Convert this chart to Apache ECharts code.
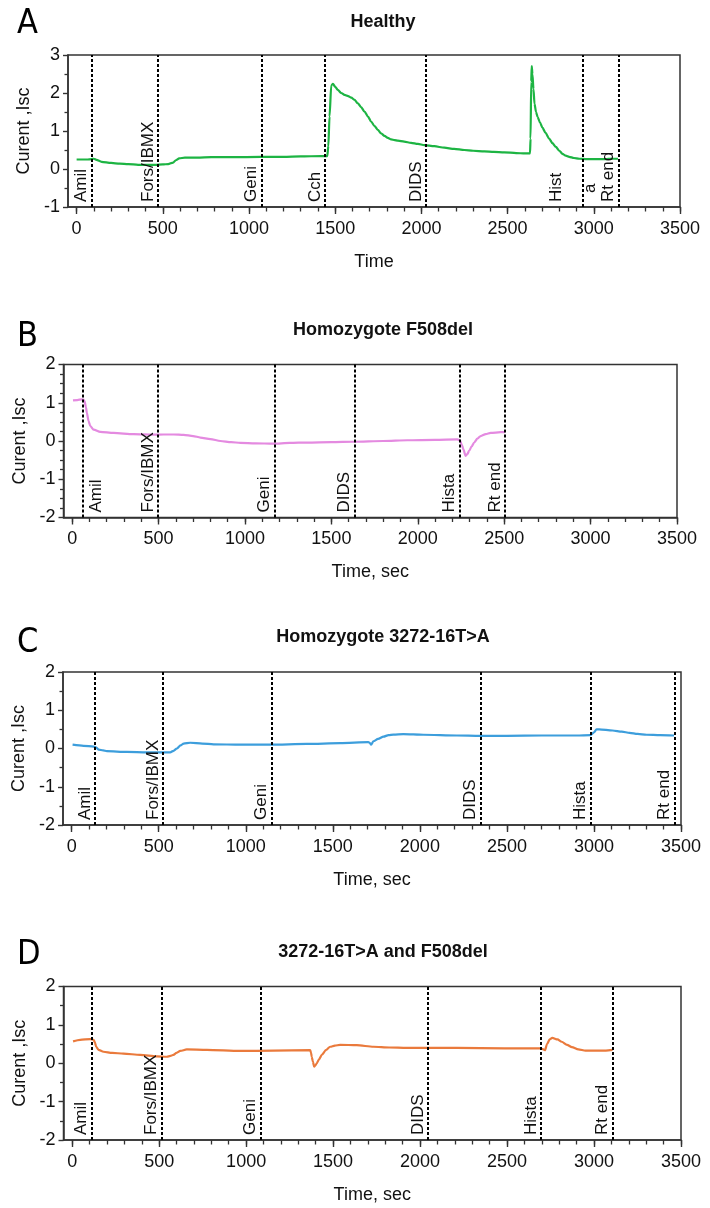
<!DOCTYPE html>
<html>
<head>
<meta charset="utf-8">
<title>Isc traces</title>
<script src="https://cdn.jsdelivr.net/npm/echarts@6/dist/echarts.min.js"></script>
<style>
  html, body { margin: 0; padding: 0; background: #fff; }
  #chart { width: 710px; height: 1208px; }
</style>
</head>
<body>
<div id="chart"></div>
<script>
// A - healthy
const timeA = [0, 60, 87, 100, 115, 145, 200, 250, 300, 357, 420, 454, 500, 531, 560, 575, 595, 628, 700, 782, 900, 1068, 1200, 1300, 1419, 1454, 1460, 1467, 1477, 1487, 1500, 1515, 1535, 1554, 1575, 1593, 1612, 1631, 1650, 1670, 1690, 1708, 1728, 1747, 1766, 1786, 1805, 1824, 1845, 1863, 1900, 1940, 1980, 2017, 2075, 2133, 2190, 2249, 2300, 2365, 2420, 2480, 2550, 2600, 2630, 2633, 2637, 2640, 2644, 2650, 2656, 2665, 2674, 2688, 2702, 2720, 2741, 2760, 2780, 2800, 2818, 2837, 2857, 2885, 2915, 2960, 3011, 3070, 3100, 3140]
const iscA = [0.25, 0.25, 0.26, 0.27, 0.24, 0.19, 0.16, 0.14, 0.13, 0.11, 0.11, 0.11, 0.12, 0.13, 0.17, 0.23, 0.28, 0.30, 0.30, 0.31, 0.31, 0.32, 0.32, 0.33, 0.34, 0.34, 0.6, 1.38, 2.2, 2.24, 2.16, 2.08, 2.0, 1.95, 1.92, 1.88, 1.82, 1.73, 1.63, 1.51, 1.38, 1.25, 1.13, 1.03, 0.94, 0.87, 0.82, 0.78, 0.76, 0.745, 0.72, 0.69, 0.66, 0.63, 0.6, 0.56, 0.53, 0.50, 0.48, 0.465, 0.45, 0.44, 0.42, 0.41, 0.41, 0.8, 2.3, 2.71, 2.5, 2.1, 1.72, 1.5, 1.37, 1.22, 1.09, 0.95, 0.80, 0.68, 0.58, 0.48, 0.40, 0.35, 0.32, 0.29, 0.27, 0.26, 0.26, 0.26, 0.27, 0.27]
const eventTimeA = [87, 471, 1072, 1440, 2026, 2933, 2933, 3144]
const eventNameA = ['Amil', 'Fors/IBMX', 'Geni', 'Cch', 'DIDS', 'Hist', 'a', 'Rt end']
const eventSideA = ['l', 'l', 'l', 'l', 'l', 'far', 'mid', 'l']

// B - homozygote F508del
const timeB = [5, 30, 57, 65, 72, 80, 85, 95, 105, 124, 163, 240, 356, 472, 530, 588, 645, 700, 742, 800, 858, 920, 974, 1060, 1163, 1260, 1360, 1500, 1630, 1800, 1940, 2100, 2229, 2244, 2255, 2264, 2277, 2287, 2297, 2312, 2326, 2345, 2364, 2393, 2422, 2480, 2505]
const iscB = [1.06, 1.07, 1.09, 1.08, 1.04, 0.88, 0.74, 0.52, 0.39, 0.30, 0.24, 0.21, 0.18, 0.165, 0.17, 0.17, 0.16, 0.13, 0.09, 0.05, 0.0, -0.03, -0.05, -0.06, -0.07, -0.05, -0.04, -0.03, -0.02, 0.0, 0.02, 0.03, 0.04, 0.02, -0.1, -0.22, -0.39, -0.34, -0.26, -0.14, -0.04, 0.06, 0.13, 0.18, 0.21, 0.23, 0.23]
const eventTimeB = [64, 498, 1170, 1635, 2240, 2505]
const eventNameB = ['Amil', 'Fors/IBMX', 'Geni', 'DIDS', 'Hista', 'Rt end']
const eventSideB = ['r', 'l', 'l', 'l', 'l', 'l']

// C - homozygote 3272-16T>A
const timeC = [5, 68, 126, 140, 155, 180, 202, 317, 432, 528, 566, 585, 604, 625, 643, 681, 750, 815, 968, 1140, 1350, 1542, 1704, 1712, 1720, 1733, 1760, 1791, 1820, 1848, 1905, 2020, 2212, 2346, 2500, 2700, 2900, 2980, 3000, 3015, 3030, 3107, 3160, 3205, 3250, 3302, 3380, 3460]
const iscC = [0.10, 0.07, 0.05, 0.03, -0.03, -0.05, -0.07, -0.09, -0.10, -0.10, -0.10, -0.06, 0.0, 0.08, 0.13, 0.15, 0.13, 0.11, 0.10, 0.10, 0.12, 0.14, 0.165, 0.15, 0.10, 0.19, 0.25, 0.31, 0.35, 0.365, 0.375, 0.36, 0.34, 0.33, 0.33, 0.34, 0.34, 0.35, 0.42, 0.50, 0.50, 0.47, 0.44, 0.41, 0.38, 0.36, 0.35, 0.34]
const eventTimeC = [133, 525, 1147, 2350, 2980, 3463]
const eventNameC = ['Amil', 'Fors/IBMX', 'Geni', 'DIDS', 'Hista', 'Rt end']
const eventSideC = ['l', 'l', 'l', 'l', 'l', 'l']

// D - 3272-16T>A and F508del
const timeD = [5, 46, 104, 123, 130, 138, 151, 180, 230, 295, 391, 487, 544, 565, 582, 600, 621, 659, 774, 965, 1157, 1368, 1373, 1377, 1384, 1391, 1398, 1406, 1420, 1435, 1460, 1483, 1510, 1540, 1636, 1732, 1823, 1923, 2211, 2488, 2690, 2705, 2718, 2730, 2745, 2760, 2790, 2814, 2845, 2873, 2910, 2951, 3000, 3068, 3106]
const iscD = [0.57, 0.61, 0.63, 0.61, 0.55, 0.43, 0.35, 0.30, 0.27, 0.25, 0.22, 0.18, 0.17, 0.19, 0.22, 0.27, 0.32, 0.36, 0.35, 0.32, 0.33, 0.34, 0.28, 0.17, 0.04, -0.09, -0.06, 0.0, 0.11, 0.22, 0.35, 0.43, 0.46, 0.48, 0.47, 0.43, 0.41, 0.40, 0.40, 0.39, 0.39, 0.37, 0.34, 0.50, 0.62, 0.66, 0.62, 0.56, 0.48, 0.42, 0.36, 0.33, 0.33, 0.33, 0.35]
const eventTimeD = [110, 512, 1083, 2046, 2695, 3106]
const eventNameD = ['Amil', 'Fors/IBMX', 'Geni', 'DIDS', 'Hista', 'Rt end']
const eventSideD = ['l', 'l', 'l', 'l', 'l', 'l']

// axis ticks
const xLabelTicks = [0, 500, 1000, 1500, 2000, 2500, 3000, 3500]
const xMinorTicks = [0, 100, 200, 300, 400, 500, 600, 700, 800, 900, 1000, 1100, 1200, 1300, 1400, 1500, 1600, 1700, 1800, 1900, 2000, 2100, 2200, 2300, 2400, 2500, 2600, 2700, 2800, 2900, 3000, 3100, 3200, 3300, 3400, 3500]

const panels = [
  { letter: 'A', title: 'Healthy', xName: 'Time', time: timeA, isc: iscA, evT: eventTimeA, evN: eventNameA, evS: eventSideA,
    color: '#1db443', yMin: -1, yMax: 3, yMinor: 2, grid: { left: 68, top: 55, width: 612, height: 152 }, titleTop: 8, letterTop: 2 },
  { letter: 'B', title: 'Homozygote F508del', xName: 'Time, sec', time: timeB, isc: iscB, evT: eventTimeB, evN: eventNameB, evS: eventSideB,
    color: '#e48ae0', yMin: -2, yMax: 2, yMinor: 4, grid: { left: 63.5, top: 364.5, width: 613.5, height: 153 }, titleTop: 316, letterTop: 315 },
  { letter: 'C', title: 'Homozygote 3272-16T>A', xName: 'Time, sec', time: timeC, isc: iscC, evT: eventTimeC, evN: eventNameC, evS: eventSideC,
    color: '#3d9edc', yMin: -2, yMax: 2, yMinor: 2, grid: { left: 63, top: 672, width: 618, height: 153 }, titleTop: 623, letterTop: 621 },
  { letter: 'D', title: '3272-16T>A and F508del', xName: 'Time, sec', time: timeD, isc: iscD, evT: eventTimeD, evN: eventNameD, evS: eventSideD,
    color: '#ea7a3c', yMin: -2, yMax: 2, yMinor: 2, grid: { left: 63.5, top: 986.5, width: 617.5, height: 153.5 }, titleTop: 938, letterTop: 933 }
]

const font = '"Liberation Sans", Arial, sans-serif'
const axisCol = '#333'
const sideStyle = {
  l: { position: 'insideStartTop', distance: [5, 1.5] },
  r: { position: 'insideStartBottom', distance: [5, 5] },
  far: { position: 'insideStartTop', distance: [5, 17] },
  mid: { position: 'insideStartBottom', distance: [14, 0] }
}

const titles = []
const grids = []
const xAxes = []
const yAxes = []
const series = []

panels.forEach((p, i) => {
  titles.push({
    text: p.letter, left: 12, top: p.letterTop,
    textStyle: { fontFamily: '"Liberation Sans Narrow", "DejaVu Sans Condensed", sans-serif', fontWeight: 'normal', fontSize: 34, color: '#000' }
  })
  titles.push({
    text: p.title, left: 378, top: p.titleTop, textAlign: 'center',
    textStyle: { fontFamily: font, fontWeight: 'bold', fontSize: 18, color: '#111' }
  })
  grids.push(Object.assign({ show: true, borderColor: axisCol, borderWidth: 1.5, containLabel: false, outerBoundsMode: 'none' }, p.grid))

  // labelled axis with major ticks
  xAxes.push({
    type: 'value', gridIndex: i, min: -50, max: 3500, position: 'bottom',
    name: p.xName, nameLocation: 'middle', nameGap: 46,
    nameTextStyle: { fontFamily: font, fontSize: 18, color: '#111' },
    axisLine: { show: true, onZero: false, lineStyle: { color: axisCol, width: 1.5 } },
    axisTick: { show: true, length: 7, customValues: xLabelTicks, lineStyle: { color: axisCol, width: 1.4 } },
    axisLabel: { customValues: xLabelTicks, formatter: v => String(v), margin: 13, fontFamily: font, fontSize: 18, color: '#111' },
    splitLine: { show: false }
  })
  // minor ticks every 100 s
  xAxes.push({
    type: 'value', gridIndex: i, min: -50, max: 3500, position: 'bottom',
    axisLine: { show: false, onZero: false },
    axisTick: { show: true, length: 4.5, customValues: xMinorTicks, lineStyle: { color: axisCol, width: 1.3 } },
    axisLabel: { show: false },
    splitLine: { show: false }
  })
  yAxes.push({
    type: 'value', gridIndex: i, min: p.yMin, max: p.yMax, interval: 1,
    name: 'Curent ,Isc', nameLocation: 'middle', nameGap: 33,
    nameTextStyle: { fontFamily: font, fontSize: 18, color: '#111' },
    axisLine: { show: true, onZero: false, lineStyle: { color: axisCol, width: 1.5 } },
    axisTick: { show: true, length: 5, lineStyle: { color: axisCol, width: 1.4 } },
    minorTick: { show: true, splitNumber: p.yMinor, length: 3.5, lineStyle: { color: axisCol, width: 1.3 } },
    axisLabel: { margin: 8, fontFamily: font, fontSize: 18, color: '#111' },
    splitLine: { show: false }
  })

  series.push({
    type: 'line', xAxisIndex: i * 2, yAxisIndex: i,
    data: p.time.map((t, k) => [t, p.isc[k]]),
    showSymbol: false, smooth: 0.25, smoothMonotone: 'x',
    lineStyle: { color: p.color, width: 2.2 },
    markLine: {
      silent: true, symbol: ['none', 'none'], animation: false,
      lineStyle: { color: '#000', type: [3, 2], width: 2 },
      label: { show: true, fontFamily: font, fontSize: 17, color: '#111' },
      data: p.evT.map((t, k) => ({
        xAxis: t,
        label: Object.assign({ formatter: p.evN[k] }, sideStyle[p.evS[k]])
      }))
    }
  })
})

const chart = echarts.init(document.getElementById('chart'), null, { renderer: 'canvas' })
chart.setOption({
  backgroundColor: '#fff',
  animation: false,
  title: titles,
  grid: grids,
  xAxis: xAxes,
  yAxis: yAxes,
  series: series
})
</script>
</body>
</html>
